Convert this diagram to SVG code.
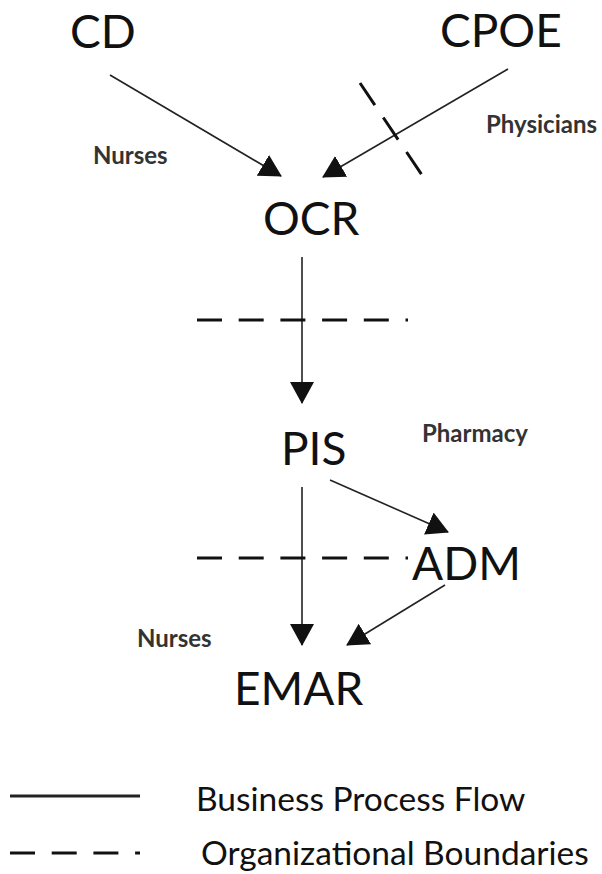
<svg xmlns="http://www.w3.org/2000/svg" width="602" height="874" viewBox="0 0 602 874">
<defs>
<marker id="ah" markerUnits="userSpaceOnUse" markerWidth="22" markerHeight="24" refX="21" refY="12" orient="auto" viewBox="0 0 22 24">
<path d="M0,0 L22,12 L0,24 z" fill="#111"/>
</marker>
<style>
.big{font-family:Lato,"Liberation Sans",sans-serif;font-size:46px;fill:#111}
.small{font-family:Lato,"Liberation Sans",sans-serif;font-size:24px;font-weight:bold;fill:#333}
.leg{font-family:Lato,"Liberation Sans",sans-serif;font-size:33.5px;fill:#111}
.flow{stroke:#222;stroke-width:1.6;fill:none;marker-end:url(#ah)}
.bnd{stroke:#111;stroke-width:3;fill:none}
</style>
</defs>
<rect width="602" height="874" fill="#fff"/>
<g id="CD"><text class="big" x="70" y="48">CD</text></g>
<g id="CPOE"><text class="big" x="440" y="47">CPOE</text></g>
<g id="OCR"><text class="big" x="263" y="235">OCR</text></g>
<g id="PIS"><text class="big" x="281" y="465">PIS</text></g>
<g id="ADM"><text class="big" x="412" y="580">ADM</text></g>
<g id="EMAR"><text class="big" x="234" y="705">EMAR</text></g>
<g id="labels">
<text class="small" x="93" y="164">Nurses</text>
<text class="small" x="486" y="133">Physicians</text>
<text class="small" x="422" y="442">Pharmacy</text>
<text class="small" x="137" y="647">Nurses</text>
</g>
<g id="connectors">
<line class="flow" x1="110" y1="75" x2="281" y2="176"/>
<line class="flow" x1="508" y1="69" x2="323" y2="177"/>
<line class="flow" x1="302" y1="257" x2="302" y2="403"/>
<line class="flow" x1="330" y1="480" x2="448" y2="532"/>
<line class="flow" x1="302" y1="487" x2="302" y2="645"/>
<line class="flow" x1="445" y1="585" x2="347" y2="645"/>
</g>
<g id="boundaries">
<line class="bnd" x1="360" y1="83" x2="422" y2="175" stroke-dasharray="26.6 15"/>
<line class="bnd" x1="197" y1="320" x2="408" y2="320" stroke-dasharray="25 16.7"/>
<line class="bnd" x1="197" y1="558" x2="408" y2="558" stroke-dasharray="25 16.7"/>
</g>
<g id="legend">
<line x1="10" y1="796" x2="140" y2="796" stroke="#222" stroke-width="3"/>
<text class="leg" x="196" y="811">Business Process Flow</text>
<line x1="10" y1="853" x2="140" y2="853" stroke="#111" stroke-width="3" stroke-dasharray="25 16.7"/>
<text class="leg" x="201" y="865">Organizational Boundaries</text>
</g>
</svg>
